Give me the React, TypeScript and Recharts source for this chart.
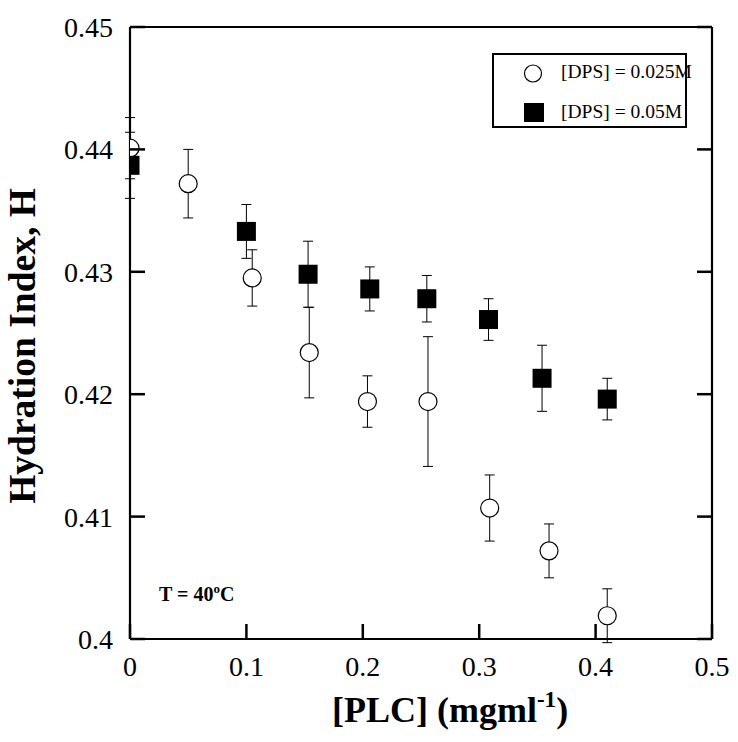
import React from 'react';
import { ScatterChart, Scatter, XAxis, YAxis, ErrorBar, Legend, Customized, Label } from 'recharts';

const plc025 = [0, 0.05, 0.105, 0.154, 0.204, 0.256, 0.309, 0.36, 0.41];
const h025 = [0.4401, 0.4372, 0.4295, 0.4234, 0.4194, 0.4194, 0.4107, 0.4072, 0.4019];
const err025 = [0.0025, 0.0028, 0.0023, 0.0037, 0.0021, 0.0053, 0.0027, 0.0022, 0.0022];

const plc05 = [0, 0.1, 0.153, 0.206, 0.255, 0.308, 0.354, 0.41];
const h05 = [0.4387, 0.4333, 0.4298, 0.4286, 0.4278, 0.4261, 0.4213, 0.4196];
const err05 = [0.0027, 0.0022, 0.0027, 0.0018, 0.0019, 0.0017, 0.0027, 0.0017];

const xTicks = [0, 0.1, 0.2, 0.3, 0.4, 0.5];
const yTicks = [0.4, 0.41, 0.42, 0.43, 0.44, 0.45];
const seriesNames = ['[DPS] = 0.025M', '[DPS] = 0.05M'];

const data025 = plc025.map((x, i) => ({ x, y: h025[i], err: err025[i] }));
const data05 = plc05.map((x, i) => ({ x, y: h05[i], err: err05[i] }));

const FONT = '"Liberation Serif", "Times New Roman", serif';
const TICK_LEN = 15;
const LABEL_GAP = 17;
const TICK_W = 2.5;

const CircleShape = (p: any) => (
  <circle cx={p.cx} cy={p.cy} r={9} fill="#fff" stroke="#000" strokeWidth={1.2} />
);
const SquareShape = (p: any) => (
  <rect x={p.cx - 9.5} y={p.cy - 9.5} width={19} height={19} fill="#000" />
);

const BottomTick = (p: any) => {
  const axisY = p.y - LABEL_GAP;
  return (
    <g>
      <line x1={p.x} x2={p.x} y1={axisY} y2={axisY - TICK_LEN} stroke="#000" strokeWidth={TICK_W} />
      <text x={p.x} y={p.y} dy="0.71em" textAnchor="middle" fontFamily={FONT} fontSize={28} fill="#000">
        {String(p.payload.value)}
      </text>
    </g>
  );
};
const LeftTick = (p: any) => {
  const axisX = p.x + LABEL_GAP;
  return (
    <g>
      <line x1={axisX} x2={axisX + TICK_LEN} y1={p.y} y2={p.y} stroke="#000" strokeWidth={TICK_W} />
      <text x={p.x} y={p.y} dy="0.355em" textAnchor="end" fontFamily={FONT} fontSize={28} fill="#000">
        {String(p.payload.value)}
      </text>
    </g>
  );
};
const TopTick = (p: any) => (
  <line x1={p.x} x2={p.x} y1={p.y} y2={p.y + TICK_LEN} stroke="#000" strokeWidth={TICK_W} />
);
const RightTick = (p: any) => (
  <line x1={p.x} x2={p.x - TICK_LEN} y1={p.y} y2={p.y} stroke="#000" strokeWidth={TICK_W} />
);

const LegendBox = () => (
  <div
    style={{
      width: 195,
      height: 75,
      boxSizing: 'border-box',
      border: '2.5px solid #000',
      background: '#fff',
      fontFamily: FONT,
      fontSize: 19.5,
      color: '#000',
      position: 'relative',
    }}
  >
    <svg width={40} height={75} style={{ position: 'absolute', left: 20, top: 0 }}>
      <circle cx={19} cy={18.5} r={8.5} fill="#fff" stroke="#000" strokeWidth={1.2} />
      <rect x={10} y={48} width={20} height={19} fill="#000" />
    </svg>
    <div style={{ position: 'absolute', left: 67, top: 6, whiteSpace: 'nowrap', lineHeight: '22px' }}>
      {seriesNames[0]}
    </div>
    <div style={{ position: 'absolute', left: 67, top: 46, whiteSpace: 'nowrap', lineHeight: '22px' }}>
      {seriesNames[1]}
    </div>
  </div>
);

const XTitle = (props: any) => {
  const vb = props.viewBox || { x: 130, y: 639 };
  return (
    <text x={vb.x + 202} y={vb.y + 83} fontFamily={FONT} fontWeight="bold" fontSize={36} fill="#000">
      [PLC] (mgml
      <tspan fontSize={23} dy={-15}>-1</tspan>
      <tspan fontSize={36} dy={15}>)</tspan>
    </text>
  );
};

const YTitle = (props: any) => {
  const vb = props.viewBox || { x: 0, y: 27, height: 612 };
  const cx = vb.x + 35;
  const cy = vb.y + vb.height / 2 + 13;
  return (
    <text
      x={cx}
      y={cy}
      transform={`rotate(-90 ${cx} ${cy})`}
      textAnchor="middle"
      fontFamily={FONT}
      fontWeight="bold"
      fontSize={37.5}
      fill="#000"
    >
      Hydration Index, H
    </text>
  );
};

const TempNote = () => (
  <text x={159} y={601} fontFamily={FONT} fontWeight="bold" fontSize={20} fill="#000">
    T = 40
    <tspan fontSize={13} dy={-8}>o</tspan>
    <tspan fontSize={20} dy={8}>C</tspan>
  </text>
);

const axisLineStyle = { stroke: '#000', strokeWidth: 2.2 };

export default function App() {
  return (
    <div style={{ position: 'absolute', left: 0, top: 0, background: '#fff' }}>
      <ScatterChart width={738} height={742} margin={{ top: 26, right: 25, bottom: 0, left: 0 }}>
        <XAxis
          xAxisId="x"
          dataKey="x"
          type="number"
          domain={[0, 0.5]}
          ticks={xTicks}
          allowDataOverflow
          interval={0}
          orientation="bottom"
          height={103}
          tickLine={false}
          tickSize={0}
          tickMargin={LABEL_GAP}
          tick={<BottomTick />}
          axisLine={axisLineStyle}
        >
          <Label content={<XTitle />} />
        </XAxis>
        <XAxis
          xAxisId="xt"
          type="number"
          domain={[0, 0.5]}
          ticks={xTicks}
          allowDataOverflow
          interval={0}
          orientation="top"
          height={1}
          tickLine={false}
          tickSize={0}
          tickMargin={0}
          tick={<TopTick />}
          axisLine={axisLineStyle}
        />
        <YAxis
          yAxisId="y"
          dataKey="y"
          type="number"
          domain={[0.4, 0.45]}
          ticks={yTicks}
          allowDataOverflow
          interval={0}
          orientation="left"
          width={130}
          tickLine={false}
          tickSize={0}
          tickMargin={LABEL_GAP}
          tick={<LeftTick />}
          axisLine={axisLineStyle}
        >
          <Label content={<YTitle />} />
        </YAxis>
        <YAxis
          yAxisId="yr"
          type="number"
          domain={[0.4, 0.45]}
          ticks={yTicks}
          allowDataOverflow
          interval={0}
          orientation="right"
          width={1}
          tickLine={false}
          tickSize={0}
          tickMargin={0}
          tick={<RightTick />}
          axisLine={axisLineStyle}
        />
        <Scatter
          name={seriesNames[0]}
          data={data025}
          xAxisId="x"
          yAxisId="y"
          shape={CircleShape}
          isAnimationActive={false}
        >
          <ErrorBar dataKey="err" direction="y" width={5} stroke="#000" strokeWidth={1} isAnimationActive={false} />
        </Scatter>
        <Scatter
          name={seriesNames[1]}
          data={data05}
          xAxisId="x"
          yAxisId="y"
          shape={SquareShape}
          isAnimationActive={false}
        >
          <ErrorBar dataKey="err" direction="y" width={5} stroke="#000" strokeWidth={1} isAnimationActive={false} />
        </Scatter>
        <Legend
          layout="horizontal"
          verticalAlign="middle"
          align="center"
          content={<LegendBox />}
          wrapperStyle={{ position: 'absolute', left: 492, top: 53, width: 195, height: 75 }}
        />
        <Customized component={TempNote} />
      </ScatterChart>
    </div>
  );
}
